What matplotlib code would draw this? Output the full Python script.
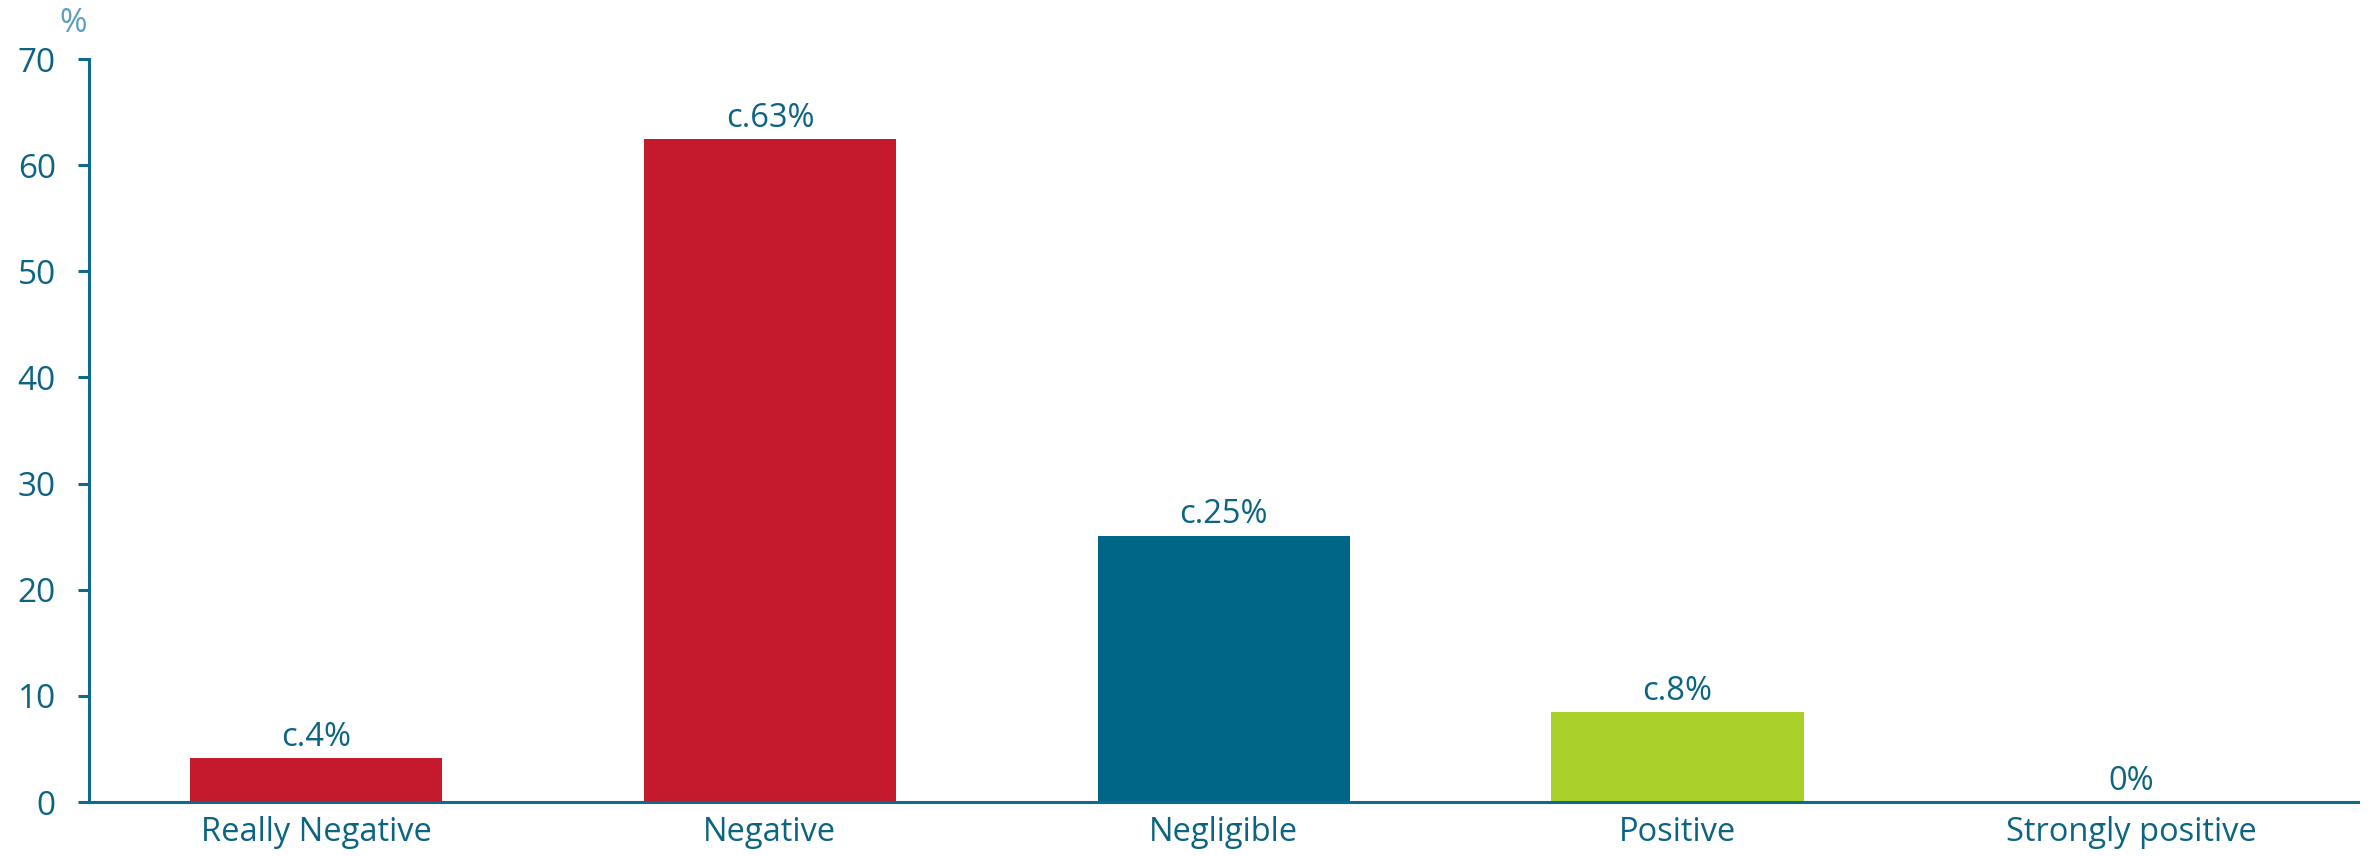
import numpy as np
import matplotlib.pyplot as plt

# %%
### ---------- data ---------- ###
categories = ["Really Negative", "Negative", "Negligible", "Positive", "Strongly positive"]
values = [4.15, 62.5, 25.1, 8.5, 0.0]
bar_labels = ["c.4%", "c.63%", "c.25%", "c.8%", "0%"]
bar_colors = ["#C5192D", "#C5192D", "#006687", "#A9D12A", "#A9D12A"]
yticks = [0, 10, 20, 30, 40, 50, 60, 70]

textcol = "#0C6482"
axcol = "#0C6A8C"

plt.rcParams["font.family"] = ["Open Sans", "DejaVu Sans"]

# %%
fig = plt.figure(figsize=(23.7, 8.56), dpi=100)
ax = fig.add_axes([0.0376, 0.063, 0.9575, 0.868])

x = np.arange(len(categories))
ax.bar(x, values, width=0.556, color=bar_colors, zorder=2)

for xi, v, lab in zip(x, values, bar_labels):
    ax.annotate(lab, (xi, v), xytext=(0, 3), textcoords="offset points",
                ha="center", va="bottom", fontsize=23.5, color=textcol)

ax.set_xlim(-0.5, len(categories) - 0.5)
ax.set_ylim(0, 70)
ax.set_yticks(yticks)
ax.set_xticks(x)
ax.set_xticklabels(categories)

ax.spines[["right", "top"]].set_visible(False)
for s in ["left", "bottom"]:
    ax.spines[s].set_color(axcol)
    ax.spines[s].set_linewidth(2.2)
ax.tick_params(axis="y", length=8, width=2.2, color=axcol, labelcolor=textcol,
               labelsize=24, pad=16)
ax.tick_params(axis="x", length=0, labelcolor=textcol, labelsize=23.5, pad=10)

fig.text(0.031, 0.972, "%", ha="center", va="center", fontsize=24, color="#5B9CC0")

fig.savefig("out.png", dpi=100)
